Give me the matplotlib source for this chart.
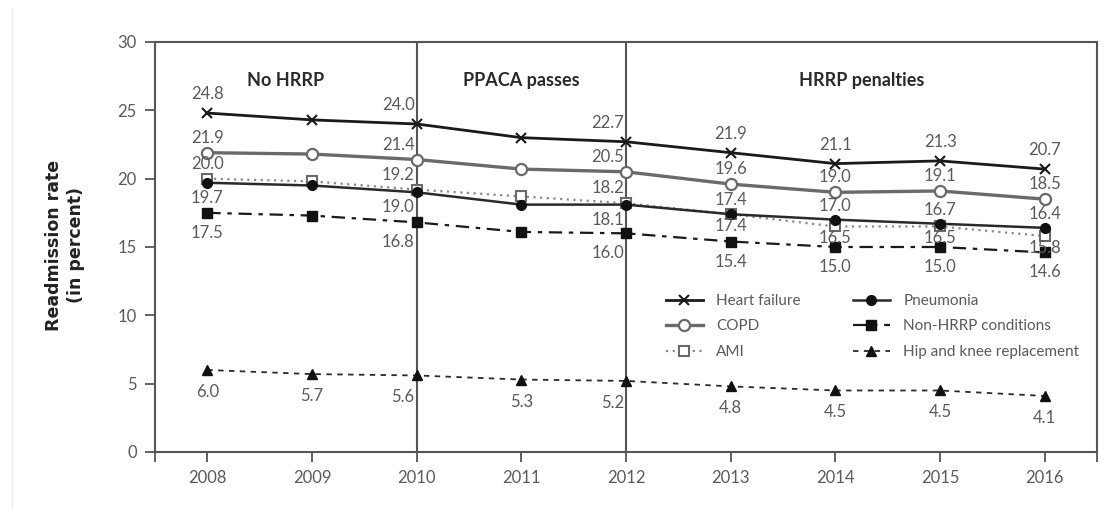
import matplotlib
matplotlib.use("Agg")
import matplotlib.pyplot as plt
from matplotlib.lines import Line2D

plt.rcParams['font.family'] = ['Lato', 'DejaVu Sans']

years = [2008, 2009, 2010, 2011, 2012, 2013, 2014, 2015, 2016]

heart_failure = [24.8, 24.3, 24.0, 23.0, 22.7, 21.9, 21.1, 21.3, 20.7]
copd = [21.9, 21.8, 21.4, 20.7, 20.5, 19.6, 19.0, 19.1, 18.5]
ami = [20.0, 19.8, 19.2, 18.7, 18.2, 17.4, 16.5, 16.5, 15.8]
pneumonia = [19.7, 19.5, 19.0, 18.1, 18.1, 17.4, 17.0, 16.7, 16.4]
non_hrrp = [17.5, 17.3, 16.8, 16.1, 16.0, 15.4, 15.0, 15.0, 14.6]
hip_knee = [6.0, 5.7, 5.6, 5.3, 5.2, 4.8, 4.5, 4.5, 4.1]

series_names = ["Heart failure", "COPD", "AMI",
                "Pneumonia", "Non-HRRP conditions", "Hip and knee replacement"]
period_labels = ["No HRRP", "PPACA passes", "HRRP penalties"]
policy_years = [2010, 2012]
y_ticks = [0, 5, 10, 15, 20, 25, 30]

TEXT = "#5a5a5a"
AXIS = "#555555"

fig = plt.figure(figsize=(11.11, 5.09), dpi=100)
ax = fig.add_axes([0.1395, 0.112, 0.848, 0.8055])

styles = {
    "Heart failure": dict(color="#1a1a1a", lw=2.0, ls="-", marker="x", ms=7,
                          mew=1.5, mfc="#1a1a1a", mec="#1a1a1a", zorder=5),
    "COPD": dict(color="#6a6a6a", lw=2.4, ls="-", marker="o", ms=8,
                 mew=1.6, mfc="white", mec="#6a6a6a", zorder=5),
    "AMI": dict(color="#8a8a8a", lw=1.6, ls=(0, (1, 2)), marker="s", ms=7,
                mew=1.5, mfc="white", mec="#6a6a6a", zorder=4),
    "Pneumonia": dict(color="#2a2a2a", lw=1.8, ls="-", marker="o", ms=7,
                      mew=1, mfc="#111111", mec="#111111", zorder=6),
    "Non-HRRP conditions": dict(color="#1a1a1a", lw=1.6, ls=(0, (6, 3, 2, 3)),
                                marker="s", ms=6.5, mew=1, mfc="#111111",
                                mec="#111111", zorder=5),
    "Hip and knee replacement": dict(color="#2a2a2a", lw=1.3, ls=(0, (3, 3)),
                                     marker="^", ms=7, mew=1, mfc="#111111",
                                     mec="#111111", zorder=5),
}

values = {
    "Heart failure": heart_failure,
    "COPD": copd,
    "AMI": ami,
    "Pneumonia": pneumonia,
    "Non-HRRP conditions": non_hrrp,
    "Hip and knee replacement": hip_knee,
}

for name in series_names:
    ax.plot(years, values[name], **styles[name])

# policy milestones
for yr in policy_years:
    ax.axvline(yr, color=AXIS, lw=1.5, zorder=3)

# value labels: (series, labelled years, vertical pixel offset)
label_rules = [
    ("Heart failure", [2008, 2010, 2012, 2013, 2014, 2015, 2016], 19),
    ("COPD", [2008, 2010, 2012, 2013, 2014, 2015, 2016], 15),
    ("AMI", [2008, 2010, 2012], 15),
    ("AMI", [2013, 2014, 2015, 2016], -12),
    ("Pneumonia", [2008, 2010, 2012], -15),
    ("Pneumonia", [2013, 2014, 2015, 2016], 14),
    ("Non-HRRP conditions", [2008, 2010, 2012, 2013, 2014, 2015, 2016], -20),
    ("Hip and knee replacement", years, -22),
]

for name, yrs, dy in label_rules:
    for yr in yrs:
        v = values[name][years.index(yr)]
        if yr in policy_years:
            ha, dx = "right", -2
        else:
            ha, dx = "center", 0
        ax.annotate(f"{v:.1f}", (yr, v), xytext=(dx, dy),
                    textcoords="offset pixels", ha=ha, va="center",
                    fontsize=12, color=TEXT, zorder=7)

ax.set_xlim(2007.5, 2016.5)
ax.set_ylim(0, 30)

# period headers centred in each span
bounds = [2007.5] + policy_years + [2016.5]
for i, txt in enumerate(period_labels):
    ax.text((bounds[i] + bounds[i + 1]) / 2, 27.2, txt, ha="center",
            va="center", fontsize=13, fontweight="bold", color="#2a2a2a")

ax.set_xticks(years)
ax.set_xticklabels([str(y) for y in years])
ax.set_xticks([2007.5, 2016.5], minor=True)
ax.set_yticks(y_ticks)
ax.tick_params(axis="both", which="both", direction="out", length=7,
               width=1.3, color=AXIS, labelcolor=TEXT, labelsize=12, pad=6)
for sp in ax.spines.values():
    sp.set_color(AXIS)
    sp.set_linewidth(1.5)

ax.set_ylabel("Readmission rate\n(in percent)", fontsize=12.5,
              fontweight="bold", color="#222222",
              family=["DejaVu Sans"], linespacing=1.3)
ax.yaxis.set_label_coords(-0.0743, 0.504)

handles = [Line2D([], [], **{k: v for k, v in styles[n].items() if k != "zorder"})
           for n in series_names]
leg = ax.legend(handles, series_names, loc="upper left",
                bbox_to_anchor=(666 / 1111, 1 - 294 / 509),
                bbox_transform=fig.transFigure, ncol=2, frameon=False,
                fontsize=11, handlelength=2.4, handletextpad=0.9,
                columnspacing=3.4, labelspacing=0.75, borderpad=0,
                borderaxespad=0)
for t in leg.get_texts():
    t.set_color(TEXT)

# faint rule along the left edge of the figure
fig.add_artist(Line2D([12 / 1111, 12 / 1111], [0, 1 - 8 / 509],
                      transform=fig.transFigure, color="#ececec", lw=1))

fig.savefig("out.png", dpi=100)
